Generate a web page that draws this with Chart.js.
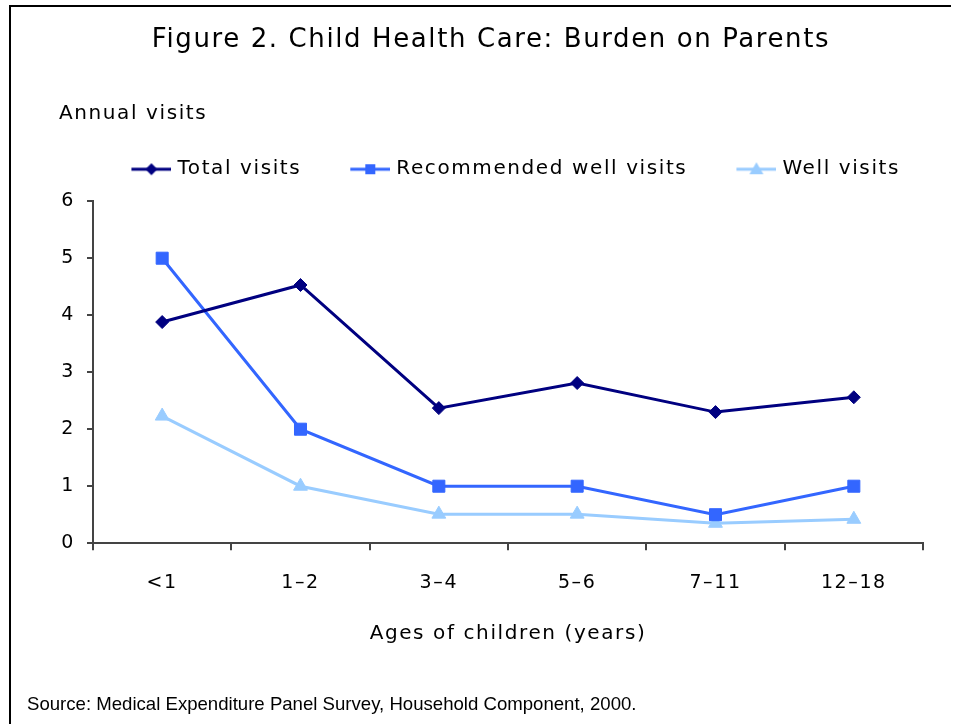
<!DOCTYPE html>
<html><head><meta charset="utf-8">
<script src="https://cdn.jsdelivr.net/npm/chart.js@4.4.1/dist/chart.umd.min.js"></script>
<style>
html,body{margin:0;padding:0;background:#fff;}
#wrap{position:relative;width:960px;height:724px;overflow:hidden;}
#frame{position:absolute;left:9px;top:5px;width:940px;height:740px;border-left:2px solid #000;border-top:2px solid #000;}
#c{position:absolute;left:0;top:0;}
#source{position:absolute;left:27px;top:693px;font:18.6px "Liberation Sans",Arial,sans-serif;color:#000;white-space:nowrap;}
</style></head><body>
<div id="wrap"><div id="frame"></div><canvas id="c" width="960" height="724"></canvas><div id="source">Source: Medical Expenditure Panel Survey, Household Component, 2000.</div></div>
<script>
const categories = ['<1', '1–2', '3–4', '5–6', '7–11', '12–18'];
const totalVisits = [3.88, 4.53, 2.37, 2.81, 2.30, 2.56];
const recommendedWellVisits = [5, 2, 1, 1, 0.5, 1];
const wellVisits = [2.23, 1.0, 0.51, 0.51, 0.35, 0.42];
const yTicks = [0, 1, 2, 3, 4, 5, 6];
const seriesNames = ['Total visits', 'Recommended well visits', 'Well visits'];

const FONT = 'DejaVu Sans';
const SPACING = '1.6px';
Chart.defaults.font.family = FONT;
Chart.defaults.color = '#000';

function legendIcon(color, style) {
  const cv = document.createElement('canvas');
  cv.width = 70; cv.height = 20;
  const g = cv.getContext('2d');
  const x0 = 30, x1 = 70, cy = 10, cx = 50;
  g.strokeStyle = color; g.lineWidth = 3;
  g.beginPath(); g.moveTo(x0, cy); g.lineTo(x1, cy); g.stroke();
  g.fillStyle = color;
  g.beginPath();
  if (style === 'diamond') { g.moveTo(cx, cy - 6); g.lineTo(cx + 6, cy); g.lineTo(cx, cy + 6); g.lineTo(cx - 6, cy); g.closePath(); }
  else if (style === 'square') { g.rect(cx - 5, cy - 5, 10, 10); }
  else { g.moveTo(cx, cy - 7); g.lineTo(cx + 7, cy + 5); g.lineTo(cx - 7, cy + 5); g.closePath(); }
  g.fill();
  return cv;
}

const colors = ['#000080', '#3366FF', '#99CCFF'];
const icons = [legendIcon(colors[0], 'diamond'), legendIcon(colors[1], 'square'), legendIcon(colors[2], 'triangle')];

const spacingPlugin = {
  id: 'spacing',
  beforeInit(chart) { chart.ctx.letterSpacing = SPACING; },
  beforeLayout(chart) { chart.ctx.letterSpacing = SPACING; },
  beforeDraw(chart) { chart.ctx.letterSpacing = SPACING; }
};

new Chart(document.getElementById('c'), {
  type: 'line',
  plugins: [spacingPlugin],
  data: {
    labels: categories,
    datasets: [
      { label: seriesNames[0], data: totalVisits, borderColor: colors[0], backgroundColor: colors[0], xAxisID: 'x', yAxisID: 'y',
        borderWidth: 3, pointStyle: 'rectRot', pointRadius: 6.5, pointBorderWidth: 1, tension: 0 },
      { label: seriesNames[1], data: recommendedWellVisits, borderColor: colors[1], backgroundColor: colors[1], xAxisID: 'x', yAxisID: 'y',
        borderWidth: 3, pointStyle: 'rect', pointRadius: 8.5, pointBorderWidth: 1, tension: 0 },
      { label: seriesNames[2], data: wellVisits, borderColor: colors[2], backgroundColor: colors[2], xAxisID: 'x', yAxisID: 'y',
        borderWidth: 3, pointStyle: 'triangle', pointRadius: 8, pointBorderWidth: 1, tension: 0 }
    ]
  },
  options: {
    responsive: false,
    animation: false,
    layout: { padding: { left: 59, right: 37, top: 0, bottom: 78 } },
    plugins: {
      tooltip: { enabled: false },
      title: { display: true, text: 'Figure 2. Child Health Care: Burden on Parents',
        font: { family: FONT, size: 26, weight: 'normal' }, color: '#000', padding: { top: 25, bottom: 0 } },
      subtitle: { display: true, text: 'Annual visits', align: 'start',
        font: { family: FONT, size: 20, weight: 'normal' }, color: '#000', padding: { top: 46, bottom: 10 } },
      legend: {
        position: 'top', align: 'end',
        labels: {
          usePointStyle: true, pointStyleWidth: 62, boxHeight: 20, padding: 23,
          font: { family: FONT, size: 20 }, color: '#000',
          generateLabels: (chart) => chart.data.datasets.map((ds, i) => ({
            text: ds.label, pointStyle: icons[i], fillStyle: ds.borderColor, strokeStyle: ds.borderColor,
            lineWidth: 0, hidden: false, datasetIndex: i, fontColor: '#000'
          }))
        }
      }
    },
    scales: {
      x: {
        type: 'category', offset: true,
        grid: { offset: true, drawOnChartArea: false, tickLength: 7, color: '#444', lineWidth: 2 },
        border: { color: '#444', width: 2 },
        ticks: { font: { family: FONT, size: 19 }, color: '#000', padding: 21, maxRotation: 0 },
        title: { display: true, text: 'Ages of children (years)', font: { family: FONT, size: 20 }, color: '#000', padding: { top: 7, bottom: 0 } }
      },
      y: {
        min: 0, max: 6,
        afterBuildTicks: (s) => { s.ticks = yTicks.map(v => ({ value: v })); },
        afterFit: (s) => { s.width = 34; },
        grid: { drawOnChartArea: false, tickLength: 6, color: '#444', lineWidth: 2 },
        border: { color: '#444', width: 2 },
        ticks: { font: { family: FONT, size: 19 }, color: '#000', padding: 12 }
      },
      spacer: {
        type: 'linear', position: 'top', display: true,
        ticks: { display: false }, grid: { display: false, drawTicks: false }, border: { display: false },
        afterFit: (s) => { s.height = 12; }
      }
    }
  }
});
</script>
</body></html>
